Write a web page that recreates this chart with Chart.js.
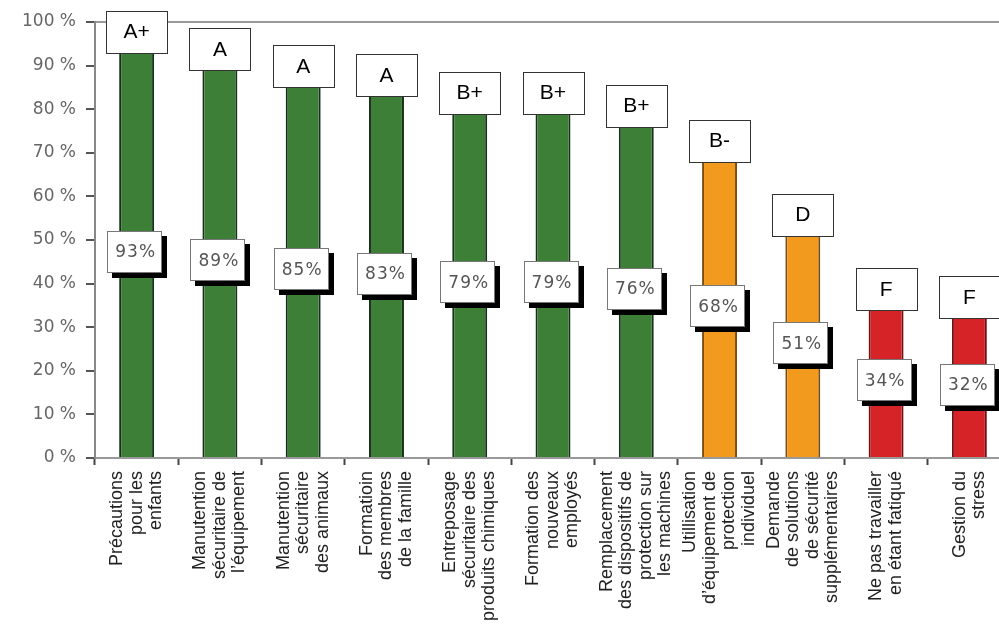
<!DOCTYPE html>
<html>
<head>
<meta charset="utf-8">
<script src="https://cdn.jsdelivr.net/npm/chart.js@4/dist/chart.umd.min.js"></script>
<style>
  html, body { margin: 0; padding: 0; background: #fff; overflow: hidden; }
  #wrap { width: 1015px; height: 625px; }
</style>
</head>
<body>
<div id="wrap"><canvas id="gradeChart" width="1015" height="625"></canvas></div>
<script>
// Chart data
const categories = [
    ['Précautions', 'pour les', 'enfants'],
    ['Manutention', 'sécuritaire de', 'l\u2019équipement'],
    ['Manutention', 'sécuritaire', 'des animaux'],
    ['Formatioin', 'des membres', 'de la famille'],
    ['Entreposage', 'sécuritaire des', 'produits chimiques'],
    ['Formation des', 'nouveaux', 'employés'],
    ['Remplacement', 'des dispositifs de', 'protection sur', 'les machines'],
    ['Utillisation', 'd\u2019équipement de', 'protection', 'individuel'],
    ['Demande', 'de solutions', 'de sécurité', 'supplémentaires'],
    ['Ne pas travailler', 'en étant fatiqué'],
    ['Gestion du', 'stress']
];
const scores = [93, 89, 85, 83, 79, 79, 76, 68, 51, 34, 32];
const grades = ['A+', 'A', 'A', 'A', 'B+', 'B+', 'B+', 'B-', 'D', 'F', 'F'];
const yTicks = [0, 10, 20, 30, 40, 50, 60, 70, 80, 90, 100];

// colour per grade
const gradeColors = { 'A+': '#3e7f38', 'A': '#3e7f38', 'B+': '#3e7f38', 'B-': '#f29a1e', 'D': '#f29a1e', 'F': '#d52328' };
const gradeEdges  = { 'A+': '#16301a', 'A': '#16301a', 'B+': '#16301a', 'B-': '#7a4e10', 'D': '#7a4e10', 'F': '#6e1212' };

// Category labels: vertical, lines centred on the tick (Chart.js puts them all to the right)
const verticalLabels = {
    id: 'verticalLabels',
    afterDraw(chart) {
        const ctx = chart.ctx;
        const scale = chart.scales.x;
        const lineH = 19.5;
        const top = scale.top + 13;
        ctx.save();
        ctx.fillStyle = '#222';
        ctx.font = '18px "Liberation Sans", Arial, sans-serif';
        ctx.textAlign = 'right';
        ctx.textBaseline = 'middle';
        categories.forEach((lines, i) => {
            const x = scale.getPixelForTick(i);
            lines.forEach((line, j) => {
                const dx = (j - (lines.length - 1) / 2) * lineH;
                ctx.save();
                ctx.translate(x + dx, top);
                ctx.rotate(-Math.PI / 2);
                ctx.fillText(line, 0, 0);
                ctx.restore();
            });
        });
        ctx.restore();
    }
};

// Draws grade boxes above the bars and the percent boxes in the middle
const boxLabels = {
    id: 'boxLabels',
    afterDatasetsDraw(chart) {
        const ctx = chart.ctx;
        const meta = chart.getDatasetMeta(0);
        ctx.save();
        meta.data.forEach((bar, i) => {
            const x = bar.x;
            const top = bar.y;
            const base = bar.base;

            // grade box on top of bar
            const gw = 61, gh = 42;
            ctx.fillStyle = '#fff';
            ctx.strokeStyle = '#333';
            ctx.lineWidth = 1;
            ctx.fillRect(Math.round(x - gw / 2) + 0.5, Math.round(top - gh) + 0.5, gw, gh);
            ctx.strokeRect(Math.round(x - gw / 2) + 0.5, Math.round(top - gh) + 0.5, gw, gh);
            ctx.fillStyle = '#000';
            ctx.font = '21px "Liberation Sans", Arial, sans-serif';
            ctx.textAlign = 'center';
            ctx.textBaseline = 'middle';
            ctx.fillText(grades[i], x, top - gh / 2 + 1);

            // percent box with shadow
            const pw = 55, ph = 42;
            const cx = x - 2;
            const cy = (top + base) / 2 - 3;
            const px = Math.round(cx - pw / 2), py = Math.round(cy - ph / 2);
            ctx.fillStyle = '#000';
            ctx.fillRect(px + 5, py + 5, pw, ph);
            ctx.fillStyle = '#fff';
            ctx.fillRect(px, py, pw, ph);
            ctx.strokeStyle = '#777';
            ctx.strokeRect(px + 0.5, py + 0.5, pw - 1, ph - 1);
            ctx.fillStyle = '#555';
            ctx.font = '17px "DejaVu Sans", sans-serif';
            ctx.letterSpacing = '1px';
            ctx.fillText(scores[i] + '%', cx + 1, cy + 1);
            ctx.letterSpacing = '0px';
        });
        ctx.restore();
    }
};

const ctx = document.getElementById('gradeChart').getContext('2d');
window.gradeChart = new Chart(ctx, {
    type: 'bar',
    data: {
        labels: categories.map(l => l.join(' ')),
        datasets: [{
            data: scores,
            backgroundColor: grades.map(g => gradeColors[g]),
            borderColor: grades.map(g => gradeEdges[g]),
            borderWidth: { left: 2, right: 2, top: 0, bottom: 0 },
            borderSkipped: false,
            barPercentage: 0.42,
            categoryPercentage: 1.0
        }]
    },
    options: {
        responsive: false,
        animation: false,
        layout: {
            padding: { top: 22, right: 4, left: 0, bottom: 0 }
        },
        plugins: {
            legend: { display: false },
            tooltip: { enabled: false }
        },
        scales: {
            x: {
                grid: {
                    offset: true,
                    drawOnChartArea: false,
                    tickLength: 7,
                    tickColor: '#444',
                    tickWidth: 2
                },
                border: { color: '#999', width: 2 },
                ticks: { display: false, autoSkip: false },
                afterFit(scale) { scale.height = 167; }
            },
            y: {
                min: 0,
                max: 100,
                afterBuildTicks(scale) { scale.ticks = yTicks.map(v => ({ value: v })); },
                grid: {
                    color: c => (c.tick && c.tick.value === 100) ? '#9a9a9a' : 'rgba(0,0,0,0)',
                    lineWidth: 2,
                    tickColor: '#555',
                    tickLength: 9
                },
                border: { color: '#888', width: 2 },
                ticks: {
                    padding: 10,
                    color: '#666',
                    font: { family: '"DejaVu Sans", sans-serif', size: 17 },
                    callback: v => v + ' %'
                },
                afterFit(scale) { scale.width = 95; }
            }
        }
    },
    plugins: [boxLabels, verticalLabels]
});
</script>
</body>
</html>
